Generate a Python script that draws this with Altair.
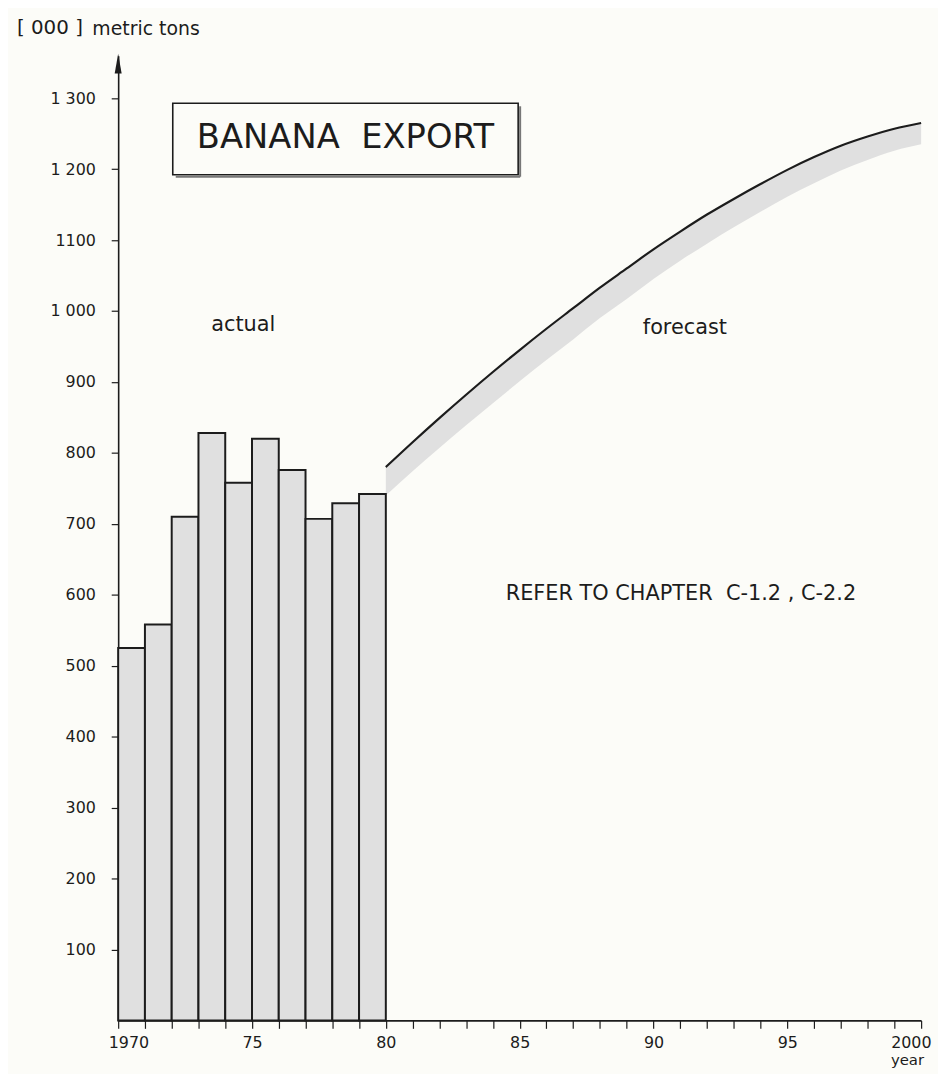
import altair as alt
import pandas as pd

# ---- data ----
actual_years = [1970, 1971, 1972, 1973, 1974, 1975, 1976, 1977, 1978, 1979]
actual_values = [525, 558, 710, 828, 758, 820, 776, 707, 729, 742]

forecast_years = [1980, 1981, 1982, 1983, 1984, 1985, 1986, 1987, 1988, 1989, 1990,
                  1991, 1992, 1993, 1994, 1995, 1996, 1997, 1998, 1999, 2000]
forecast_upper = [780, 815, 849, 882, 914, 945, 975, 1004, 1033, 1060, 1087,
                  1112, 1136, 1158, 1179, 1199, 1217, 1233, 1246, 1257, 1265]
forecast_lower = [740, 774, 807, 839, 870, 901, 931, 960, 990, 1017, 1045,
                  1071, 1095, 1118, 1140, 1161, 1180, 1198, 1213, 1226, 1235]

y_ticks = [100, 200, 300, 400, 500, 600, 700, 800, 900, 1000, 1100, 1200, 1300]
y_tick_labels = ["100", "200", "300", "400", "500", "600", "700", "800", "900",
                 "1 000", "1100", "1 200", "1 300"]
x_ticks = list(range(1970, 2001))
x_label_years = [1970, 1975, 1980, 1985, 1990, 1995, 2000]
x_labels = ["1970", "75", "80", "85", "90", "95", "2000"]

FONT = "DejaVu Sans"
INK = "#1c1c1c"
STIPPLE = "#e0e0e0"


def label_expr(vals, labs):
    expr = "''"
    for v, l in reversed(list(zip(vals, labs))):
        expr = f"datum.value == {v} ? '{l}' : ({expr})"
    return expr


bars_df = pd.DataFrame({"year": actual_years, "value": actual_values})
fc_df = pd.DataFrame({"year": forecast_years, "upper": forecast_upper, "lower": forecast_lower})

x_scale = alt.Scale(domain=[1970, 2000], nice=False, zero=False)
y_scale = alt.Scale(domain=[0, 1360], nice=False)

x_axis = alt.Axis(values=x_ticks, tickCount=len(x_ticks),
                  labelExpr=label_expr(x_label_years, x_labels),
                  tickSize=8, tickWidth=1.2, domainWidth=1.6, labelPadding=6,
                  labelFontSize=16, labelFont=FONT, labelColor=INK, grid=False,
                  title=None, labelFlush=True, labelFlushOffset=10, labelOverlap=False,
                  domainColor=INK, tickColor=INK)
y_axis = alt.Axis(values=y_ticks, tickCount=len(y_ticks),
                  labelExpr=label_expr(y_ticks, y_tick_labels),
                  tickSize=7, tickWidth=1.2, domainWidth=1.6, labelPadding=16,
                  labelFontSize=16, labelFont=FONT, labelColor=INK, grid=False,
                  title=None, labelOverlap=False, domainColor=INK, tickColor=INK)

bars = alt.Chart(bars_df).transform_calculate(
    year_end="datum.year + 1"
).mark_rect(fill=STIPPLE, stroke=INK, strokeWidth=2).encode(
    x=alt.X("year:Q", scale=x_scale, axis=x_axis),
    x2="year_end:Q",
    y=alt.Y("value:Q", scale=y_scale, axis=y_axis),
    y2=alt.datum(0),
)

band = alt.Chart(fc_df).mark_area(fill=STIPPLE, interpolate="monotone").encode(
    x=alt.X("year:Q", scale=x_scale, axis=x_axis),
    y=alt.Y("upper:Q", scale=y_scale, axis=y_axis),
    y2="lower:Q",
)

curve = alt.Chart(fc_df).mark_line(color=INK, strokeWidth=2.2, interpolate="monotone").encode(
    x=alt.X("year:Q", scale=x_scale, axis=x_axis),
    y=alt.Y("upper:Q", scale=y_scale, axis=y_axis),
)

one = pd.DataFrame({"k": [0]})


def txt(s, x, y, size, align="left"):
    return alt.Chart(one).mark_text(
        text=s, align=align, baseline="middle", fontSize=size, font=FONT,
        color=INK,
    ).encode(x=alt.value(x), y=alt.value(y))


arrow = alt.Chart(one).mark_point(
    shape="M 0 -1 L 0.35 1 L -0.35 1 Z", filled=True, color=INK, size=400, opacity=1
).encode(x=alt.value(0), y=alt.value(8))

box = alt.Chart(one).mark_rect(fillOpacity=0, stroke=INK, strokeWidth=1.6).encode(
    x=alt.value(55), x2=alt.value(403), y=alt.value(48), y2=alt.value(120)
)
shadow_r = alt.Chart(one).mark_rule(color="#777", strokeWidth=2).encode(
    x=alt.value(405), y=alt.value(51), y2=alt.value(122)
)
shadow_b = alt.Chart(one).mark_rule(color="#777", strokeWidth=2).encode(
    x=alt.value(58), x2=alt.value(405), y=alt.value(122)
)

texts = [
    txt("[ 000 ]", -102, -28, 20),
    txt("metric tons", -26, -27, 19),
    txt("BANANA\u00a0\u00a0EXPORT", 229, 83, 34, align="center"),
    txt("actual", 126, 271, 21, align="center"),
    txt("forecast", 571, 274, 21, align="center"),
    txt("REFER TO CHAPTER\u00a0\u00a0C-1.2 ,\u00a0C-2.2", 567, 542, 21, align="center"),
    txt("year", 812, 1012, 15, align="right"),
]

chart = alt.layer(
    band, bars, curve, arrow, box, shadow_r, shadow_b, *texts
).properties(
    width=809, height=972,
    autosize=alt.AutoSizeParams(type="none"),
    padding={"left": 111, "top": 44, "right": 17, "bottom": 50},
    background="#fcfcf8",
).configure_view(strokeWidth=0)

chart.save("out.html", embed_options={"renderer": "svg", "actions": False})
